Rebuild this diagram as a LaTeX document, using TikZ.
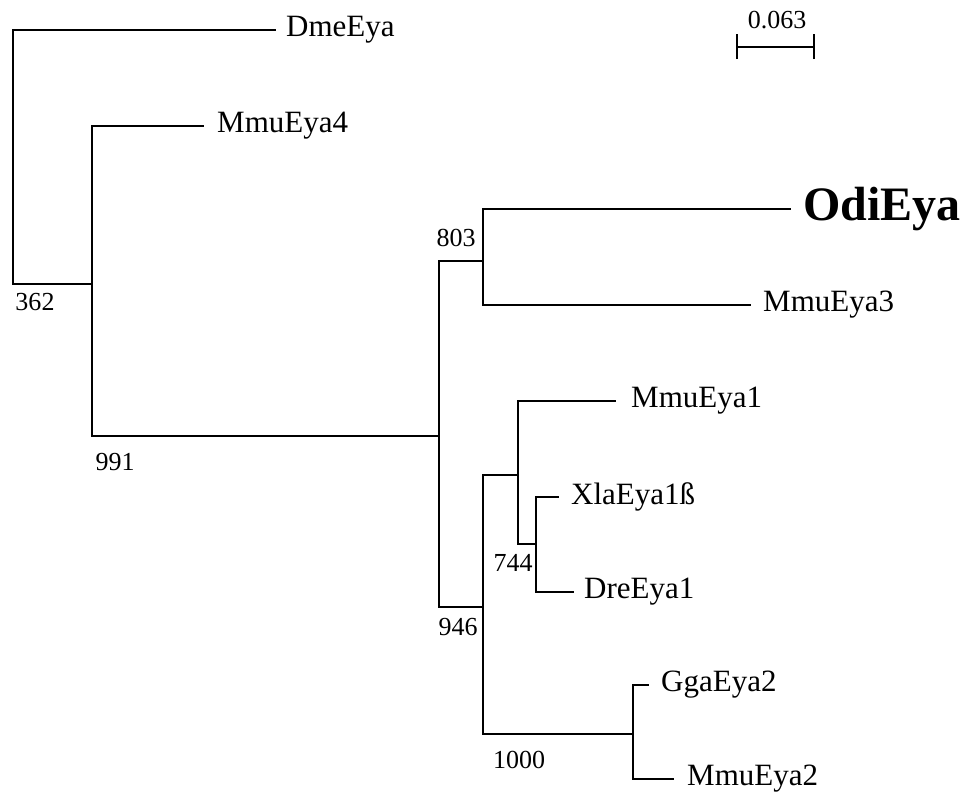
\documentclass[tikz,border=0pt]{standalone}
\usepackage{fontspec}
\setmainfont{Liberation Serif}
\begin{document}
\begin{tikzpicture}[x=1pt,y=-1pt,
  br/.style={line width=1.7pt, line cap=rect},
  tax/.style={anchor=west, inner sep=0pt, font=\fontsize{31}{31}\selectfont},
  boot/.style={inner sep=0pt, font=\fontsize{26}{26}\selectfont}]
\fill[white] (0,0) rectangle (971,804);
\useasboundingbox (0,0) rectangle (971,804);
% internal nodes
\coordinate (nR) at (13,284);
\coordinate (nA) at (92,284);
\coordinate (nB) at (439,436);
\coordinate (nC) at (483,261);
\coordinate (nD) at (483,607);
\coordinate (nE) at (518,475);
\coordinate (nF) at (536,544);
\coordinate (nG) at (633,734);
% leaf ends
\coordinate (eDme) at (275,30);
\coordinate (eMmuA) at (203,126);
\coordinate (eOdi) at (790,209);
\coordinate (eMmuB) at (750,305);
\coordinate (eMmuC) at (615,401);
\coordinate (eXla) at (558,497);
\coordinate (eDre) at (573,592);
\coordinate (eGga) at (648,685);
\coordinate (eMmuD) at (673,779);
% branches
\draw[br] (nR) |- (eDme);
\draw[br] (nR) -- (nA);
\draw[br] (nA) |- (eMmuA);
\draw[br] (nA) |- (nB);
\draw[br] (nB) |- (nC);
\draw[br] (nB) |- (nD);
\draw[br] (nC) |- (eOdi);
\draw[br] (nC) |- (eMmuB);
\draw[br] (nD) |- (nE);
\draw[br] (nD) |- (nG);
\draw[br] (nE) |- (eMmuC);
\draw[br] (nE) |- (nF);
\draw[br] (nF) |- (eXla);
\draw[br] (nF) |- (eDre);
\draw[br] (nG) |- (eGga);
\draw[br] (nG) |- (eMmuD);
% taxa
\node[tax] (tDme) at (286,30) {DmeEya};
\node[tax] (tMmuA) at (217,126) {MmuEya4};
\node[tax, font=\fontsize{48}{48}\selectfont\bfseries] (tOdi) at (803,209) {OdiEya};
\node[tax] (tMmuB) at (763,305) {MmuEya3};
\node[tax] (tMmuC) at (631,401) {MmuEya1};
\node[tax] (tXla) at (571,497) {XlaEya1ß};
\node[tax] (tDre) at (584,592) {DreEya1};
\node[tax] (tGga) at (661,685) {GgaEya2};
\node[tax] (tMmuD) at (687,779) {MmuEya2};
% bootstrap values
\node[boot] (b362) at (35,302) {362};
\node[boot] (b991) at (115,462) {991};
\node[boot] (b803) at (456,238) {803};
\node[boot] (b946) at (458,627) {946};
\node[boot] (b744) at (513,563) {744};
\node[boot] (b1000) at (519,760) {1000};
% scale bar
\coordinate (sbL) at (737,47);
\coordinate (sbR) at (814,47);
\draw[br, line cap=butt] (sbL) -- (sbR);
\draw[br, line cap=butt] ([yshift=-12pt]sbL) -- ([yshift=13pt]sbL);
\draw[br, line cap=butt] ([yshift=-12pt]sbR) -- ([yshift=13pt]sbR);
\node[boot] (sbT) at (777,20) {0.063};
\end{tikzpicture}
\end{document}
